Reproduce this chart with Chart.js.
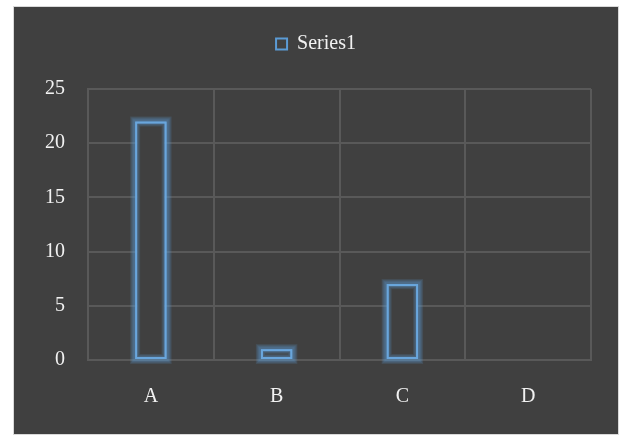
<!DOCTYPE html>
<html>
<head>
<meta charset="utf-8">
<script src="https://cdn.jsdelivr.net/npm/chart.js@4"></script>
<style>
  html, body { margin: 0; padding: 0; background: #ffffff; }
  #wrap {
    position: absolute; left: 13px; top: 6px;
    width: 604px; height: 427px;
    background: #404040;
    border: 1px solid #d9d9d9;
  }
</style>
</head>
<body>
<div id="wrap"><canvas id="chart" width="604" height="427"></canvas></div>
<script>
const categories = ['A', 'B', 'C', 'D'];
const series1 = [22, 1, 7, 0];
const yTicks = [0, 5, 10, 15, 20, 25];

const bgColor = '#404040';
const gridColor = '#595959';
const textColor = '#f2f2f2';
const barColor = '#5b9bd5';
const serif = 'Liberation Serif';

// soft blue glow round each bar outline, built from wide faint strokes
const glow = {
  id: 'glow',
  afterDatasetsDraw(chart) {
    const ctx = chart.ctx;
    const meta = chart.getDatasetMeta(0);
    ctx.save();
    meta.data.forEach(bar => {
      const { x, y, base, width } = bar.getProps(['x', 'y', 'base', 'width'], true);
      const h = base - y;
      if (Math.abs(h) < 0.5) return;
      const left = x - width / 2;
      [10, 8, 6, 4].forEach(lw => {
        ctx.strokeStyle = 'rgba(91,155,213,0.16)';
        ctx.lineWidth = lw;
        ctx.strokeRect(left, y, width, h);
      });
      ctx.strokeStyle = '#6aa6dc';
      ctx.lineWidth = 2;
      ctx.strokeRect(left + 1, y + 1, width - 2, h - 2);
    });
    ctx.restore();
  }
};

// extra room under the legend, and keep it centred on the whole canvas
const legendGap = {
  id: 'legendGap',
  beforeInit(chart) {
    const fit = chart.legend.fit;
    chart.legend.fit = function() {
      fit.bind(chart.legend)();
      this.height += 25;
    };
  },
  afterLayout(chart) {
    chart.legend.left = 0;
    chart.legend.right = chart.width;
  }
};

new Chart(document.getElementById('chart'), {
  type: 'bar',
  data: {
    labels: categories,
    datasets: [{
      label: 'Series1',
      data: series1,
      backgroundColor: bgColor,
      borderColor: barColor,
      borderWidth: 2,
      borderSkipped: false,
      categoryPercentage: 1,
      barPercentage: 0.25
    }]
  },
  options: {
    responsive: false,
    animation: false,
    layout: { padding: { left: 14, right: 27, top: 17, bottom: 0 } },
    plugins: {
      tooltip: { enabled: false },
      legend: {
        position: 'top',
        labels: {
          color: textColor,
          boxWidth: 11,
          boxHeight: 11,
          padding: 10,
          font: { family: serif, size: 20 }
        }
      }
    },
    scales: {
      x: {
        grid: { color: gridColor, lineWidth: 2, offset: true, drawTicks: false },
        border: { color: gridColor, width: 2 },
        ticks: {
          color: textColor,
          padding: 25,
          font: { family: serif, size: 20 }
        },
        afterFit(s) { s.height = 74; }
      },
      y: {
        min: 0,
        max: 25,
        afterBuildTicks(s) { s.ticks = yTicks.map(v => ({ value: v })); },
        grid: { color: gridColor, lineWidth: 2, drawTicks: false },
        border: { color: gridColor, width: 2 },
        ticks: {
          color: textColor,
          padding: 23,
          font: { family: serif, size: 20 }
        },
        afterFit(s) { s.width = 60; }
      }
    }
  },
  plugins: [glow, legendGap]
});
</script>
</body>
</html>
